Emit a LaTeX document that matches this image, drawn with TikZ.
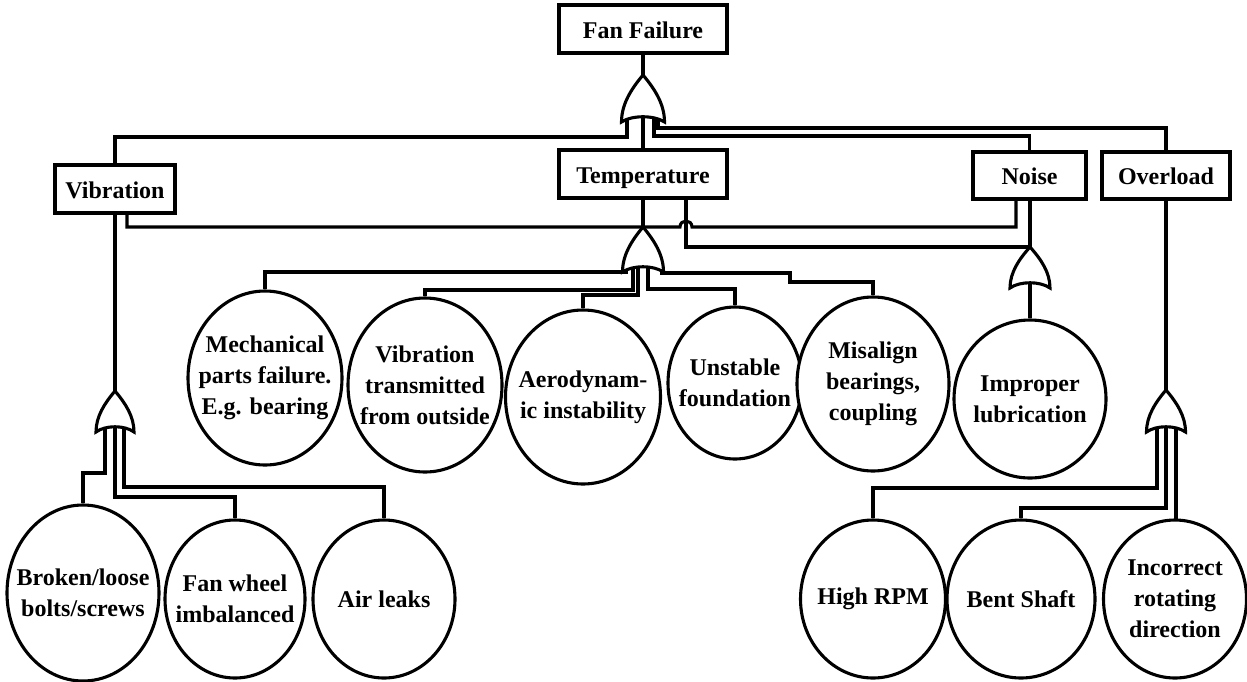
\documentclass[tikz,border=0pt]{standalone}
\usepackage{fontspec}
\setmainfont{Liberation Serif}
\usetikzlibrary{shapes.geometric}
\tikzset{
  wire/.style={line width=3.1pt, line join=miter},
  boxn/.style={draw, line width=3.3pt, rectangle, minimum height=48pt, inner sep=0pt, fill=white,
     text height=19pt, text depth=1pt,
     font=\fontsize{24}{31}\selectfont\bfseries},
  evt/.style={draw, line width=3.1pt, ellipse, inner sep=0pt, fill=white},
  evtext/.style={inner sep=0pt, align=center, font=\fontsize{24}{31}\selectfont\bfseries},
  gate/.style={draw, line width=3.1pt, fill=white, line join=miter}
}
\newcommand{\fgate}[4]{%
  \draw[gate] (#1,#2) .. controls ({#1+0.55*#3},{#2+0.3*#4}) and ({#1+#3},{#2+0.62*#4}) .. ({#1+#3},{#2+#4})
   .. controls ({#1+0.5*#3},{#2+#4-7}) and ({#1-0.5*#3},{#2+#4-7}) .. ({#1-#3},{#2+#4})
   .. controls ({#1-#3},{#2+0.62*#4}) and ({#1-0.55*#3},{#2+0.3*#4}) .. cycle;}
\begin{document}
\begin{tikzpicture}[x=1pt,y=-1pt]
\useasboundingbox (0,0) rectangle (1247,681);
% boxes
\node[boxn, minimum width=168pt] (ff) at (643,29) {Fan Failure};
\node[boxn, minimum width=168pt] (temp) at (643,174) {Temperature};
\node[boxn, minimum width=120pt] (vib) at (115,189) {Vibration};
\node[boxn, minimum width=113pt, minimum height=47pt] (noise) at (1029.5,175.5) {Noise};
\node[boxn, minimum width=128pt, minimum height=47pt] (over) at (1166,175.5) {Overload};
% events
\node[evt, minimum width=154pt, minimum height=174pt] (mech) at (265,378) {};
\node[evt, minimum width=154pt, minimum height=174pt] (vtr) at (425,385) {};
\node[evt, minimum width=155pt, minimum height=174pt] (aero) at (583,397) {};
\node[evt, minimum width=134pt, minimum height=152pt] (unst) at (735,383) {};
\node[evt, minimum width=152pt, minimum height=174pt] (mis) at (873,384) {};
\node[evt, minimum width=152pt, minimum height=158pt] (imp) at (1030,399) {};
\node[evt, minimum width=152pt, minimum height=176pt] (brk) at (83,593) {};
\node[evt, minimum width=140pt, minimum height=158pt] (fan) at (235,599) {};
\node[evt, minimum width=142pt, minimum height=158pt] (air) at (384,599) {};
\node[evt, minimum width=145pt, minimum height=158pt] (rpm) at (873,599) {};
\node[evt, minimum width=148pt, minimum height=158pt] (bent) at (1021,599) {};
\node[evt, minimum width=143pt, minimum height=158pt] (inc) at (1175,599) {};
\node[evtext] (mechT) at (mech) {Mechanical\\parts failure.\\E.g. bearing};
\node[evtext] (vtrT) at (vtr) {Vibration\\transmitted\\from outside};
\node[evtext] (aeroT) at (aero) {Aerodynam-\\ic instability};
\node[evtext] (unstT) at (unst) {Unstable\\foundation};
\node[evtext] (misT) at (mis) {Misalign\\bearings,\\coupling};
\node[evtext] (impT) at (imp) {Improper\\lubrication};
\node[evtext] (brkT) at (brk) {Broken/loose\\bolts/screws};
\node[evtext] (fanT) at (fan) {Fan wheel\\imbalanced};
\node[evtext] (airT) at (air) {Air leaks};
\node[evtext] (rpmT) at (rpm) {High RPM};
\node[evtext] (bentT) at (bent) {Bent Shaft};
\node[evtext] (incT) at (inc) {Incorrect\\rotating\\direction};
% gate coordinates
\coordinate (gT) at (643,75);
\coordinate (gTT) at (643,227);
\coordinate (gN) at (1030,247);
\coordinate (gV) at (115,391);
\coordinate (gO) at (1166,390);
% top level wires
\draw[wire] (ff.south) -- (gT);
\draw[wire] (643,115) -- (temp.north);
\draw[wire] (vib.north) |- (627,137) -- (627,118);
\draw[wire] (noise.north) |- (654,136) -- (654,118);
\draw[wire] (over.north) |- (658,128) -- (658,118);
% second level
\draw[wire] (vib.south) -- (gV);
\draw[wire] (127,213) -- (127,227) -- (680,227) .. controls (680,219) and (692,219) .. (692,227) -- (1016,227) -- (1016,199);
\draw[wire] (temp.south) -- (gTT);
\draw[wire] (686,198) -- (686,247) -- (gN);
\draw[wire] (noise.south -| gN) -- (gN);
\draw[wire] (over.south) -- (gO);
% temperature gate inputs
\draw[wire] (mech.north) |- (626,272) -- (626,266);
\draw[wire] (vtr.north) |- (633,290) -- (633,266);
\draw[wire] (aero.north) |- (638,295) -- (638,266);
\draw[wire] (648,266) |- (735,289) -- (unst.north);
\draw[wire] (660,273) -- (790,273) -- (790,282) -- (873,282) -- (mis.north);
% noise gate
\draw[wire] (1030,283) -- (imp.north);
% vibration gate inputs
\draw[wire] (105,427) |- (83,473) -- (brk.north);
\draw[wire] (115,427) |- (235,497) -- (fan.north);
\draw[wire] (124,427) |- (384,487) -- (air.north);
% overload gate inputs
\draw[wire] (1157,427) |- (873,488) -- (rpm.north);
\draw[wire] (1166,427) |- (1021,508) -- (bent.north);
\draw[wire] (1176,427) -- (1176,520);
% gates
\fgate{643}{75}{21.5}{47}
\fgate{643}{227}{20.5}{45}
\fgate{1030}{247}{20}{41}
\fgate{115}{391}{19}{41}
\fgate{1166}{390}{19.5}{42}
\end{tikzpicture}
\end{document}
